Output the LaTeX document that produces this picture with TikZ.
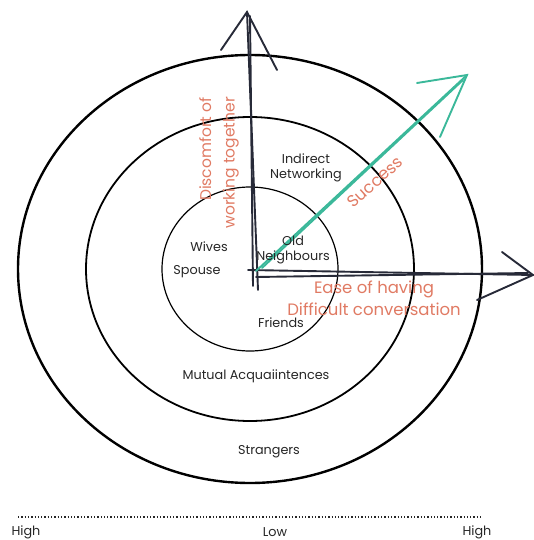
\documentclass[tikz,border=0pt]{standalone}
\usepackage{fontspec}
\setmainfont{Poppins}
\usetikzlibrary{positioning}
\definecolor{inkdark}{HTML}{272A38}
\definecolor{salmon}{HTML}{E07A63}
\definecolor{successgreen}{HTML}{3BB89A}
\tikzstyle{ring} = [draw=black]
\tikzstyle{circlelabel} = [text=black!85, font=\fontsize{12.8}{15.5}\selectfont, align=center, inner sep=0pt]
\tikzstyle{axislabel} = [text=salmon, font=\fontsize{16.5}{22}\selectfont, align=center, inner sep=0pt]
\tikzstyle{sketch} = [inkdark, line width=1.9pt, line cap=round]
\tikzstyle{greensketch} = [successgreen, line width=1.9pt, line cap=round]

\begin{document}
\begin{tikzpicture}[x=1pt, y=-1pt]
		\useasboundingbox (0,0) rectangle (534,540);
		\coordinate (centre) at (250,269);
		% rings
		\draw [ring, line width=1.2pt] (centre) ellipse [x radius=88, y radius=82];
		\draw [ring, line width=1.8pt] (centre) ellipse [x radius=164, y radius=152];
		\draw [ring, line width=2.4pt] (centre) ellipse [x radius=232, y radius=214];
		% vertical arrow
		\coordinate (vbase) at (258,290);
		\coordinate (vbase2) at (253,286);
		\coordinate (vtip) at (247,12);
		\coordinate (vtip2) at (250,16);
		\coordinate (vleft) at (221,50);
		\coordinate (vright) at (277,70);
		\draw [sketch] (vbase) -- (vtip);
		\draw [sketch] (vbase2) -- (vtip2);
		\draw [sketch] (vleft) -- (vtip) -- (vright);
		% horizontal arrow
		\coordinate (hbase) at (248,270);
		\coordinate (hbase2) at (256,277);
		\coordinate (htip) at (533,275);
		\coordinate (htip2) at (528,273);
		\coordinate (hup) at (502,252);
		\coordinate (hdown) at (477,300);
		\draw [sketch] (hbase) -- (htip);
		\draw [sketch] (hbase2) -- (htip2);
		\draw [sketch] (hup) -- (htip) -- (hdown);
		% success arrow
		\coordinate (gbase) at (256,271);
		\coordinate (gbase2) at (262,268);
		\coordinate (gtip) at (467,75);
		\coordinate (gtip2) at (463,80);
		\coordinate (gleft) at (417,83);
		\coordinate (gright) at (440,137);
		\draw [greensketch] (gbase) -- (gtip);
		\draw [greensketch] (gbase2) -- (gtip2);
		\draw [greensketch] (gleft) -- (gtip) -- (gright);
		% axis labels
		\node (discomfort) [axislabel, align=right, rotate=90, anchor=east, font=\fontsize{15.5}{23.5}\selectfont] at (219,97) {Discomfort of\\working together};
		\node (success) [axislabel, rotate=42] at (375,182) {Success};
		\node (ease) [axislabel] at (374,298) {Ease of having\\Difficult conversation};
		% ring labels
		\node (indirect) [circlelabel] at (306,168) {Indirect\\Networking};
		\node (wives) [circlelabel] at (209,247) {Wives};
		\node (oldnb) [circlelabel] at (293,250) {Old\\Neighbours};
		\node (spouse) [circlelabel] at (197,272) {Spouse};
		\node (friends) [circlelabel] at (281,323) {Friends};
		\node (mutual) [circlelabel] at (256,376) {Mutual Acquaiintences};
		\node (strangers) [circlelabel] at (269,452) {Strangers};
		% scale
		\coordinate (scaleleft) at (18,517);
		\coordinate (scaleright) at (482,517);
		\draw [black!85, line width=1.3pt, dotted] (scaleleft) -- (scaleright);
		\node (highleft) [circlelabel] at (26,532) {High};
		\node (low) [circlelabel] at (275,532) {Low};
		\node (highright) [circlelabel] at (477,532) {High};
\end{tikzpicture}
\end{document}
